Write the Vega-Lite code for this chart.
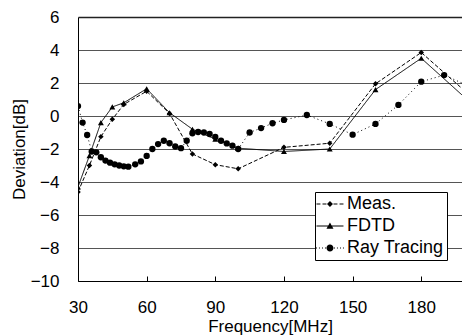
{
  "$schema": "https://vega.github.io/schema/vega-lite/v6.json",
  "width": 384,
  "height": 264,
  "autosize": {"type": "none"},
  "padding": {"left": 78, "top": 17, "right": 0, "bottom": 55},
  "background": "white",
  "config": {"view": {"stroke": null}, "font": "Liberation Sans"},
  "data": {"values": [
    {"s": "Meas.", "f": 30, "d": -4.6},
    {"s": "Meas.", "f": 35, "d": -3.0},
    {"s": "Meas.", "f": 40, "d": -1.25},
    {"s": "Meas.", "f": 45, "d": -0.2},
    {"s": "Meas.", "f": 50, "d": 0.7},
    {"s": "Meas.", "f": 60, "d": 1.5},
    {"s": "Meas.", "f": 70, "d": 0.15},
    {"s": "Meas.", "f": 80, "d": -2.3},
    {"s": "Meas.", "f": 90, "d": -2.95},
    {"s": "Meas.", "f": 100, "d": -3.2},
    {"s": "Meas.", "f": 120, "d": -1.9},
    {"s": "Meas.", "f": 140, "d": -1.65},
    {"s": "Meas.", "f": 160, "d": 1.95},
    {"s": "Meas.", "f": 180, "d": 3.85},
    {"s": "Meas.", "f": 200, "d": 1.4},
    {"s": "FDTD", "f": 30, "d": -4.3},
    {"s": "FDTD", "f": 35, "d": -2.4},
    {"s": "FDTD", "f": 40, "d": -0.4},
    {"s": "FDTD", "f": 45, "d": 0.55},
    {"s": "FDTD", "f": 50, "d": 0.8},
    {"s": "FDTD", "f": 60, "d": 1.65},
    {"s": "FDTD", "f": 70, "d": 0.2},
    {"s": "FDTD", "f": 80, "d": -0.8},
    {"s": "FDTD", "f": 90, "d": -1.4},
    {"s": "FDTD", "f": 100, "d": -1.95},
    {"s": "FDTD", "f": 120, "d": -2.15},
    {"s": "FDTD", "f": 140, "d": -2.0},
    {"s": "FDTD", "f": 160, "d": 1.6},
    {"s": "FDTD", "f": 180, "d": 3.5},
    {"s": "FDTD", "f": 200, "d": 1.0},
    {"s": "Ray Tracing", "f": 30, "d": 0.6},
    {"s": "Ray Tracing", "f": 32, "d": -0.4},
    {"s": "Ray Tracing", "f": 34, "d": -1.15},
    {"s": "Ray Tracing", "f": 36, "d": -2.15},
    {"s": "Ray Tracing", "f": 38, "d": -2.2},
    {"s": "Ray Tracing", "f": 40, "d": -2.5},
    {"s": "Ray Tracing", "f": 42, "d": -2.7},
    {"s": "Ray Tracing", "f": 44, "d": -2.83},
    {"s": "Ray Tracing", "f": 46, "d": -2.93},
    {"s": "Ray Tracing", "f": 48, "d": -3.0},
    {"s": "Ray Tracing", "f": 50, "d": -3.05},
    {"s": "Ray Tracing", "f": 52, "d": -3.07},
    {"s": "Ray Tracing", "f": 55, "d": -2.93},
    {"s": "Ray Tracing", "f": 57.5, "d": -2.75},
    {"s": "Ray Tracing", "f": 60, "d": -2.42},
    {"s": "Ray Tracing", "f": 62.5, "d": -2.0},
    {"s": "Ray Tracing", "f": 65, "d": -1.7},
    {"s": "Ray Tracing", "f": 67.5, "d": -1.5},
    {"s": "Ray Tracing", "f": 70, "d": -1.65},
    {"s": "Ray Tracing", "f": 72.5, "d": -1.85},
    {"s": "Ray Tracing", "f": 75, "d": -1.95},
    {"s": "Ray Tracing", "f": 77.5, "d": -1.5},
    {"s": "Ray Tracing", "f": 80, "d": -1.05},
    {"s": "Ray Tracing", "f": 82.5, "d": -0.97},
    {"s": "Ray Tracing", "f": 85, "d": -1.0},
    {"s": "Ray Tracing", "f": 87.5, "d": -1.09},
    {"s": "Ray Tracing", "f": 90, "d": -1.27},
    {"s": "Ray Tracing", "f": 92.5, "d": -1.5},
    {"s": "Ray Tracing", "f": 95, "d": -1.66},
    {"s": "Ray Tracing", "f": 97.5, "d": -1.8},
    {"s": "Ray Tracing", "f": 100, "d": -2.0},
    {"s": "Ray Tracing", "f": 105, "d": -1.0},
    {"s": "Ray Tracing", "f": 110, "d": -0.73},
    {"s": "Ray Tracing", "f": 115, "d": -0.44},
    {"s": "Ray Tracing", "f": 120, "d": -0.24},
    {"s": "Ray Tracing", "f": 130, "d": 0.06},
    {"s": "Ray Tracing", "f": 140, "d": -0.48},
    {"s": "Ray Tracing", "f": 150, "d": -1.13},
    {"s": "Ray Tracing", "f": 160, "d": -0.48},
    {"s": "Ray Tracing", "f": 170, "d": 0.67},
    {"s": "Ray Tracing", "f": 180, "d": 2.08},
    {"s": "Ray Tracing", "f": 190, "d": 2.48},
    {"s": "Ray Tracing", "f": 200, "d": 1.86}
  ]},
  "encoding": {
    "x": {
      "field": "f", "type": "quantitative",
      "scale": {"domain": [30, 197.8], "nice": false, "zero": false},
      "axis": {
        "title": "Frequency[MHz]", "values": [30, 60, 90, 120, 150, 180],
        "grid": false, "domainColor": "black", "domainWidth": 1,
        "tickColor": "black", "tickSize": -5, "labelPadding": 23,
        "labelFontSize": 17, "labelColor": "black", "labelFlush": false,
        "titleFontSize": 17, "titleFontWeight": "normal", "titleColor": "black", "titlePadding": 3
      }
    },
    "y": {
      "field": "d", "type": "quantitative",
      "scale": {"domain": [-10, 6], "nice": false, "zero": false},
      "axis": {
        "title": "Deviation[dB]", "values": [-10, -8, -6, -4, -2, 0, 2, 4, 6],
        "grid": true,
        "gridColor": {"condition": {"test": "datum.value === 6", "value": "#222222"}, "value": "#555555"},
        "gridWidth": {"condition": {"test": "datum.value === 6", "value": 1.5}, "value": 1},
        "ticks": false, "domainColor": "black", "domainWidth": 1,
        "labelPadding": 19, "labelFontSize": 17, "labelColor": "black",
        "titleFontSize": 17, "titleFontWeight": "normal", "titleColor": "black", "titlePadding": 2
      }
    }
  },
  "resolve": {"scale": {"shape": "independent"}, "legend": {"shape": "independent"}},
  "layer": [
    {
      "mark": {"type": "line", "clip": true, "color": "black", "strokeWidth": 1},
      "encoding": {
        "strokeDash": {
          "field": "s", "type": "nominal",
          "scale": {"domain": ["Meas.", "FDTD", "Ray Tracing"], "range": [[4, 2], [1, 0], [1, 3]]},
          "legend": null
        }
      }
    },
    {
      "mark": {"type": "point", "filled": true, "clip": true, "color": "black", "opacity": 1},
      "encoding": {
        "shape": {
          "field": "s", "type": "nominal",
          "scale": {"domain": ["Meas.", "FDTD", "Ray Tracing"], "range": ["diamond", "triangle-up", "circle"]},
          "legend": null
        },
        "size": {
          "field": "s", "type": "ordinal",
          "scale": {"domain": ["Meas.", "FDTD", "Ray Tracing"], "range": [30, 40, 50]},
          "legend": null
        }
      }
    },
    {
      "transform": [{"filter": "false"}],
      "mark": {"type": "point", "filled": true, "clip": true, "color": "black", "opacity": 1, "size": 324, "strokeWidth": 0},
      "encoding": {
        "shape": {
          "field": "s", "type": "nominal",
          "scale": {
            "domain": ["Meas.", "FDTD", "Ray Tracing"],
            "range": [
              "M-1.17,-0.055L-0.73,-0.055L-0.73,0.055L-1.17,0.055ZM-0.5,-0.055L-0.06,-0.055L-0.06,0.055L-0.5,0.055ZM0.72,-0.055L1.16,-0.055L1.16,0.055L0.72,0.055ZM1.39,-0.055L1.83,-0.055L1.83,0.055L1.39,0.055ZM0,0L0.33,-0.33L0.66,0L0.33,0.33Z",
              "M-1.17,-0.055L1.83,-0.055L1.83,0.055L-1.17,0.055ZM-0.06,0.3L0.33,-0.39L0.72,0.3Z",
              "M-1.225,-0.055L-1.115,-0.055L-1.115,0.055L-1.225,0.055ZM-0.895,-0.055L-0.785,-0.055L-0.785,0.055L-0.895,0.055ZM-0.555,-0.055L-0.445,-0.055L-0.445,0.055L-0.555,0.055ZM-0.225,-0.055L-0.115,-0.055L-0.115,0.055L-0.225,0.055ZM0.775,-0.055L0.885,-0.055L0.885,0.055L0.775,0.055ZM1.105,-0.055L1.215,-0.055L1.215,0.055L1.105,0.055ZM1.445,-0.055L1.555,-0.055L1.555,0.055L1.445,0.055ZM1.775,-0.055L1.885,-0.055L1.885,0.055L1.775,0.055ZM0.72,0A0.39,0.39,0,1,1,-0.06,0A0.39,0.39,0,1,1,0.72,0Z"
            ]
          },
          "legend": {
            "title": null, "orient": "none", "legendX": 237, "legendY": 175,
            "direction": "vertical", "fillColor": "white", "strokeColor": "black",
            "padding": 3, "labelFontSize": 18, "labelColor": "black", "labelOffset": 11,
            "symbolSize": 324, "symbolStrokeWidth": 0, "symbolFillColor": "black",
            "symbolOpacity": 1, "rowPadding": 4, "cornerRadius": 0
          }
        }
      }
    }
  ]
}
